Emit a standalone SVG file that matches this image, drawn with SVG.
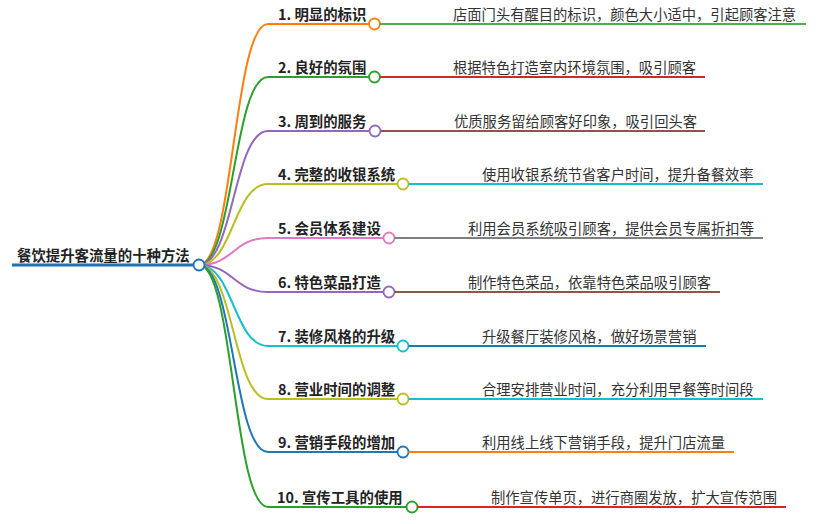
<svg xmlns="http://www.w3.org/2000/svg" width="820" height="524" viewBox="0 0 820 524">
<style>
.lbl{font-family:"Noto Sans CJK SC","Liberation Sans",sans-serif;font-size:14.4px;font-weight:bold;fill:#222}
.txt{font-family:"Noto Sans CJK SC","Liberation Sans",sans-serif;font-size:14.3px;fill:#333}
.c{fill:none;stroke-width:2}
.ul{stroke-width:2;fill:none}
.dot{fill:#fff;stroke-width:1.8}
</style>
<rect width="820" height="524" fill="#fff"/>
<g id="connectors">
<path class="c" stroke="#ff7f0e" d="M199,265 C233.5,265 233.5,24 268,24 L369,24"/>
<path class="c" stroke="#2ca02c" d="M199,265 C233.5,265 233.5,77 268,77 L369,77"/>
<path class="c" stroke="#9467bd" d="M199,265 C233.5,265 233.5,131 268,131 L369.5,131"/>
<path class="c" stroke="#bcbd22" d="M199,265 C233.5,265 233.5,184 268,184 L397.5,184"/>
<path class="c" stroke="#e377c2" d="M199,265 C233.5,265 233.5,238 268,238 L383.5,238"/>
<path class="c" stroke="#9467bd" d="M199,265 C233.5,265 233.5,292 268,292 L383.5,292"/>
<path class="c" stroke="#17becf" d="M199,265 C233.5,265 233.5,346 268,346 L397.5,346"/>
<path class="c" stroke="#bcbd22" d="M199,265 C233.5,265 233.5,399 268,399 L397.5,399"/>
<path class="c" stroke="#1f77b4" d="M199,265 C233.5,265 233.5,452 268,452 L397.5,452"/>
<path class="c" stroke="#2ca02c" d="M199,265 C233.5,265 233.5,507 268,507 L406.5,507"/>
</g>
<g id="root">
<line x1="12" y1="265" x2="193.5" y2="265" stroke="#1f6fb5" stroke-width="3"/>
<text class="lbl" x="17" y="261">餐饮提升客流量的十种方法</text>
<circle class="dot" cx="199" cy="265" r="5.5" stroke="#1f6fb5"/>
</g>
<g id="n1">
<text class="lbl" x="278" y="20">1. 明显的标识</text>
<circle class="dot" cx="374.5" cy="24" r="5.5" stroke="#ff7f0e"/>
</g>
<g id="n1a">
<line class="ul" x1="380" y1="24" x2="806" y2="24" stroke="#4cae4c"/>
<text class="txt" x="453" y="20">店面门头有醒目的标识，颜色大小适中，引起顾客注意</text>
</g>
<g id="n2">
<text class="lbl" x="278" y="73">2. 良好的氛围</text>
<circle class="dot" cx="374.5" cy="77" r="5.5" stroke="#2ca02c"/>
</g>
<g id="n2a">
<line class="ul" x1="380" y1="77" x2="705" y2="77" stroke="#d62728"/>
<text class="txt" x="453" y="73">根据特色打造室内环境氛围，吸引顾客</text>
</g>
<g id="n3">
<text class="lbl" x="278" y="127">3. 周到的服务</text>
<circle class="dot" cx="375" cy="131" r="5.5" stroke="#9467bd"/>
</g>
<g id="n3a">
<line class="ul" x1="380.5" y1="131" x2="705" y2="131" stroke="#8c564b"/>
<text class="txt" x="454" y="127">优质服务留给顾客好印象，吸引回头客</text>
</g>
<g id="n4">
<text class="lbl" x="278" y="180">4. 完整的收银系统</text>
<circle class="dot" cx="403" cy="184" r="5.5" stroke="#bcbd22"/>
</g>
<g id="n4a">
<line class="ul" x1="408.5" y1="184" x2="763" y2="184" stroke="#17becf"/>
<text class="txt" x="482" y="180">使用收银系统节省客户时间，提升备餐效率</text>
</g>
<g id="n5">
<text class="lbl" x="278" y="234">5. 会员体系建设</text>
<circle class="dot" cx="389" cy="238" r="5.5" stroke="#e377c2"/>
</g>
<g id="n5a">
<line class="ul" x1="394.5" y1="238" x2="763" y2="238" stroke="#7f7f7f"/>
<text class="txt" x="468" y="234">利用会员系统吸引顾客，提供会员专属折扣等</text>
</g>
<g id="n6">
<text class="lbl" x="278" y="288">6. 特色菜品打造</text>
<circle class="dot" cx="389" cy="292" r="5.5" stroke="#9467bd"/>
</g>
<g id="n6a">
<line class="ul" x1="394.5" y1="292" x2="720" y2="292" stroke="#8c564b"/>
<text class="txt" x="468" y="288">制作特色菜品，依靠特色菜品吸引顾客</text>
</g>
<g id="n7">
<text class="lbl" x="278" y="342">7. 装修风格的升级</text>
<circle class="dot" cx="403" cy="346" r="5.5" stroke="#17becf"/>
</g>
<g id="n7a">
<line class="ul" x1="408.5" y1="346" x2="706" y2="346" stroke="#1f77b4"/>
<text class="txt" x="482" y="342">升级餐厅装修风格，做好场景营销</text>
</g>
<g id="n8">
<text class="lbl" x="278" y="395">8. 营业时间的调整</text>
<circle class="dot" cx="403" cy="399" r="5.5" stroke="#bcbd22"/>
</g>
<g id="n8a">
<line class="ul" x1="408.5" y1="399" x2="763" y2="399" stroke="#17becf"/>
<text class="txt" x="482" y="395">合理安排营业时间，充分利用早餐等时间段</text>
</g>
<g id="n9">
<text class="lbl" x="278" y="448">9. 营销手段的增加</text>
<circle class="dot" cx="403" cy="452" r="5.5" stroke="#1f77b4"/>
</g>
<g id="n9a">
<line class="ul" x1="408.5" y1="452" x2="734" y2="452" stroke="#ff7f0e"/>
<text class="txt" x="482" y="448">利用线上线下营销手段，提升门店流量</text>
</g>
<g id="n10">
<text class="lbl" x="277" y="503">10. 宣传工具的使用</text>
<circle class="dot" cx="412" cy="507" r="5.5" stroke="#2ca02c"/>
</g>
<g id="n10a">
<line class="ul" x1="417.5" y1="507" x2="786" y2="507" stroke="#d62728"/>
<text class="txt" x="491" y="503">制作宣传单页，进行商圈发放，扩大宣传范围</text>
</g>
</svg>
